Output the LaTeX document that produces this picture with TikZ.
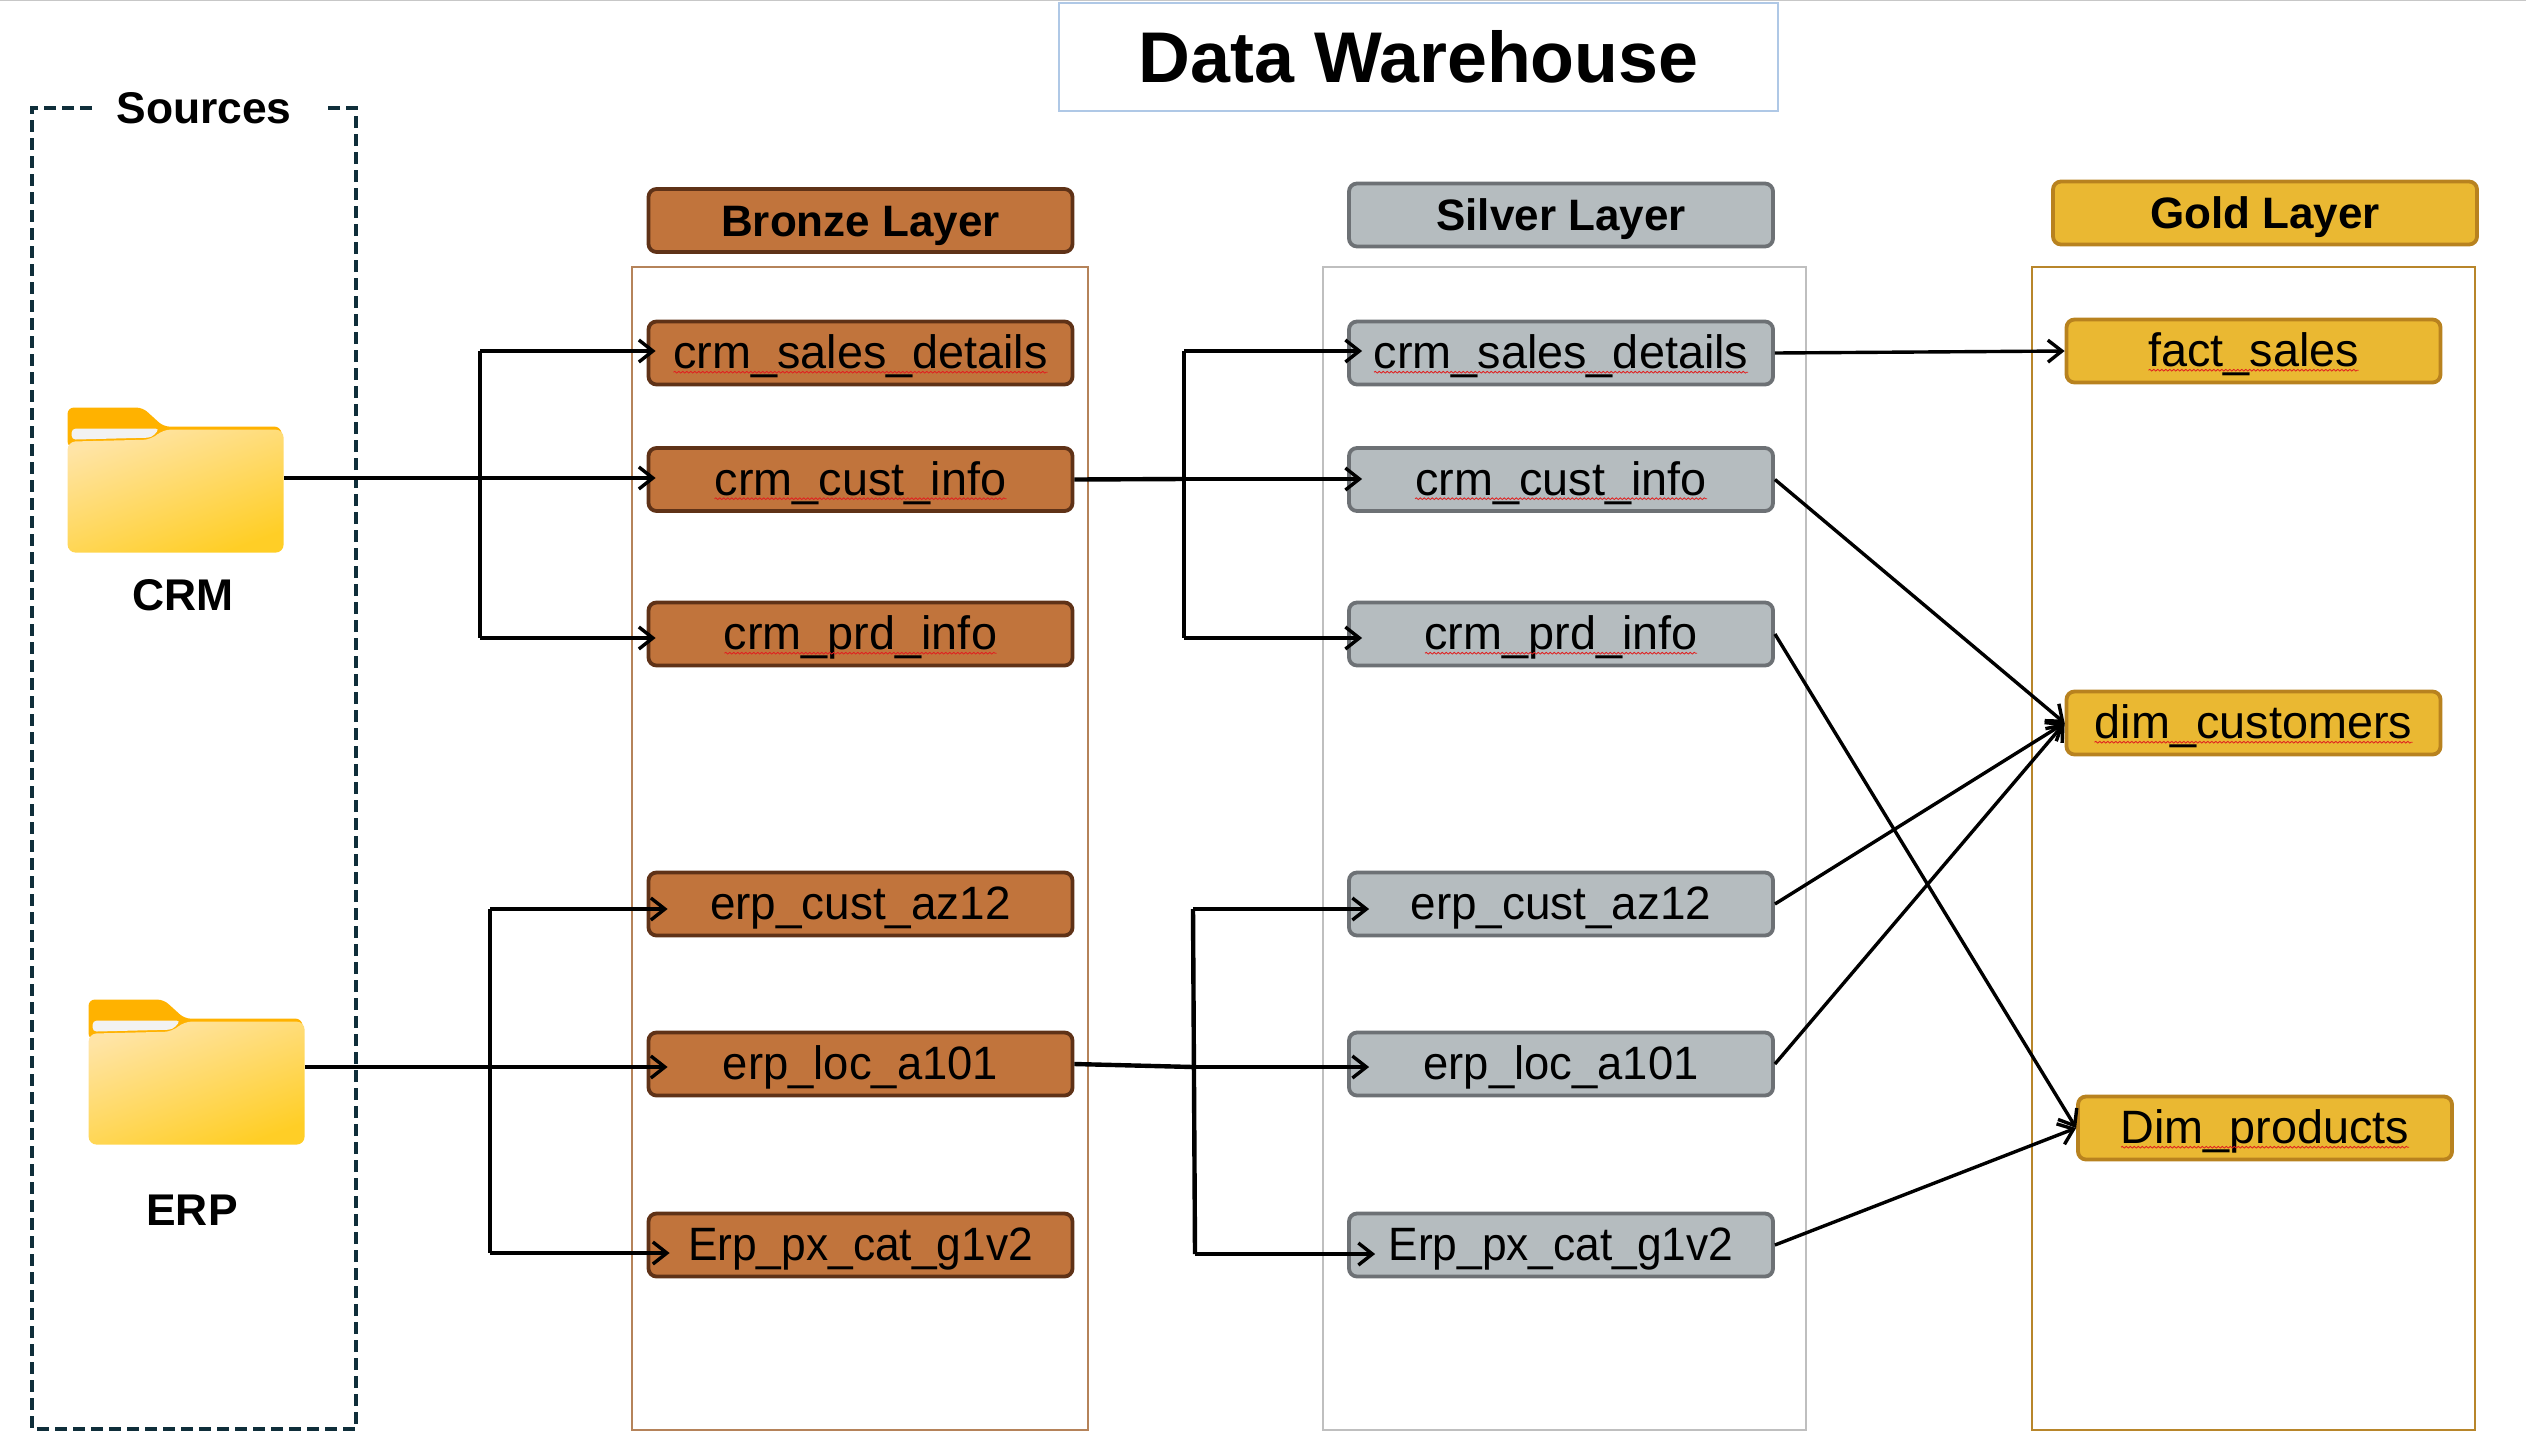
\documentclass[tikz,border=0pt]{standalone}
\usepackage{fontspec}
\setmainfont{Liberation Sans}
\usetikzlibrary{arrows.meta,calc,decorations.pathmorphing}
\definecolor{bronzefill}{HTML}{C1743C}
\definecolor{bronzeline}{HTML}{5F3217}
\definecolor{bronzepanel}{HTML}{B5835A}
\definecolor{silverfill}{HTML}{B5BCBF}
\definecolor{silverline}{HTML}{6D7175}
\definecolor{silverpanel}{HTML}{BFBFBF}
\definecolor{goldfill}{HTML}{EAB832}
\definecolor{goldline}{HTML}{B8821F}
\definecolor{goldpanel}{HTML}{B8862B}
\definecolor{titleline}{HTML}{AFC8E6}
\definecolor{sourceline}{HTML}{0F2E3A}
\definecolor{spellred}{HTML}{E02020}
\newcommand{\cellfont}{\fontsize{23.4}{28}\selectfont}
\newcommand{\headfont}{\fontsize{22}{26}\selectfont\bfseries}
\newcommand{\spellmark}[2]{\draw[squig] ($(#1.base)+(-#2pt,-1.8pt)$) -- ($(#1.base)+(#2pt,-1.8pt)$);}
\tikzset{
	box/.style={draw,line width=1.9pt,rounded corners=4pt,minimum width=212pt,minimum height=31.5pt,inner sep=0pt,text height=17.6pt,text depth=2pt},
	cell/.style={box,font=\cellfont},
	head/.style={box,font=\headfont},
	bronze/.style={fill=bronzefill,draw=bronzeline},
	silver/.style={fill=silverfill,draw=silverline},
	gold/.style={fill=goldfill,draw=goldline,minimum width=187pt},
	panel/.style={line width=1pt},
	link/.style={line width=1.7pt},
	trunk/.style={line width=2.2pt},
	tip/.style={link,-{Straight Barb[length=7pt,width=11pt,line width=1.7pt]},shorten >=#1*.5pt},
	squig/.style={spellred,line width=.4pt,decorate,decoration={snake,segment length=2pt,amplitude=.45pt}},
	folderbox/.style={minimum width=108pt,minimum height=72.5pt,inner sep=0pt},
	label/.style={font=\fontsize{22.2}{26}\selectfont\bfseries,inner sep=0pt},
	folder/.pic={
		\fill[rounded corners=3pt,fill=orange!60!yellow] (0,40) -- (0,0) -- (75,0) -- (96,19) -- (213,19) -- (216,40) -- cycle;
		\fill[black!5,rounded corners=2pt] (4,21) -- (92,21) -- (84,30) -- (4,32) -- cycle;
		\shade[left color=yellow!40!orange!35!white,right color=yellow!55!orange!85,shading angle=20,rounded corners=4pt] (0,145) -- (0,34) -- (84,32) -- (95,22) -- (216,22) -- (216,145) -- cycle;
	}
}
\begin{document}
\begin{tikzpicture}[x=.5pt,y=-.5pt]
	\useasboundingbox (0,0) rectangle (2526,1441);
	\draw[black!22] (0,.5) -- (2526,.5);

	\node[draw=titleline,line width=1pt,minimum width=359.5pt,minimum height=54pt,font=\fontsize{35.9}{42}\selectfont\bfseries] (title) at (1418.5,57) {Data Warehouse};

	\draw[sourceline,line width=1.9pt,dash pattern=on 6pt off 3pt] (92,108) -- (32,108) -- (32,1429) -- (356,1429) -- (356,108) -- (326,108);
	\node[label] (sources) at (204,108) {Sources};

	\node[folderbox] (crm) at (176,480.5) {};
	\pic at (crm.north west) {folder};
	\node[label] (crmname) at (183,595) {CRM};
	\node[folderbox] (erp) at (197,1072.5) {};
	\pic at (erp.north west) {folder};
	\node[label] (erpname) at (192,1210) {ERP};

	\draw[bronzepanel,panel] (632,267) rectangle (1088,1430);
	\draw[silverpanel,panel] (1323,267) rectangle (1806,1430);
	\draw[goldpanel,panel] (2032,267) rectangle (2475,1430);

	\node[head,bronze] (bhead) at (860.5,220.5) {Bronze Layer};
	\node[head,silver] (shead) at (1561,215) {Silver Layer};
	\node[head,gold,minimum width=212pt] (ghead) at (2265,213) {Gold Layer};

	\foreach \n/\y/\txt in {sd/353/crm\_sales\_details,ci/479.5/crm\_cust\_info,pi/634/crm\_prd\_info,ca/904/\scalebox{.98}[1]{erp\_cust\_az12},la/1064/\scalebox{.97}[1]{erp\_loc\_a101},px/1245/\scalebox{.947}[1]{Erp\_px\_cat\_g1v2}}
	{
		\node[cell,bronze] (b\n) at (860.5,\y) {\txt};
		\node[cell,silver] (s\n) at (1561,\y) {\txt};
	}
	\node[cell,gold] (fs) at (2253.5,351) {fact\_sales};
	\node[cell,gold] (dc) at (2253.5,723) {dim\_customers};
	\node[cell,gold] (dp) at (2265,1128) {Dim\_products};

	\foreach \l in {b,s}
	{
		\spellmark{\l sd}{93.5}
		\spellmark{\l ci}{73}
		\spellmark{\l pi}{68}
	}
	\spellmark{fs}{52.5}
	\spellmark{dc}{79.5}
	\spellmark{dp}{72}

	\coordinate (crmtop) at (480,351);
	\coordinate (crmmid) at (480,478);
	\coordinate (crmbot) at (480,638);
	\coordinate (erptop) at (490,909);
	\coordinate (erpmid) at (490,1067);
	\coordinate (erpbot) at (490,1253);
	\coordinate (bcrmtop) at (1184,351);
	\coordinate (bcrmmid) at (1184,479);
	\coordinate (bcrmbot) at (1184,638);
	\coordinate (berptop) at (1193,909);
	\coordinate (berpmid) at (1193,1067);
	\coordinate (berpbot) at (1195,1254);

	\draw[trunk] (crm.east |- crmmid) -- (crmmid);
	\draw[trunk] (erp.east |- erpmid) -- (erpmid);
	\draw[trunk] (bci.east) -- (bcrmmid);
	\draw[trunk] (bla.east) -- (berpmid);
	\foreach \a/\b in {crmtop/crmbot,erptop/erpbot,bcrmtop/bcrmbot,berptop/berpbot}
		\draw[trunk] (\a) -- (\b);

	\foreach \a/\n/\s in {crmtop/bsd/-9,crmmid/bci/-9,crmbot/bpi/-9,erptop/bca/-21,erpmid/bla/-21,erpbot/bpx/-23,bcrmtop/ssd/-15,bcrmmid/sci/-15,bcrmbot/spi/-15,berptop/sca/-22,berpmid/sla/-22,berpbot/spx/-28}
		\draw[tip=\s] (\a) -- (\n.west |- \a);

	\draw[tip=0] (ssd.east) -- (fs.west);
	\foreach \n in {sci,sca,sla}
		\draw[tip=0] (\n.east) -- (dc.west);
	\foreach \n in {spi,spx}
		\draw[tip=0] (\n.east) -- (dp.west);
\end{tikzpicture}
\end{document}
